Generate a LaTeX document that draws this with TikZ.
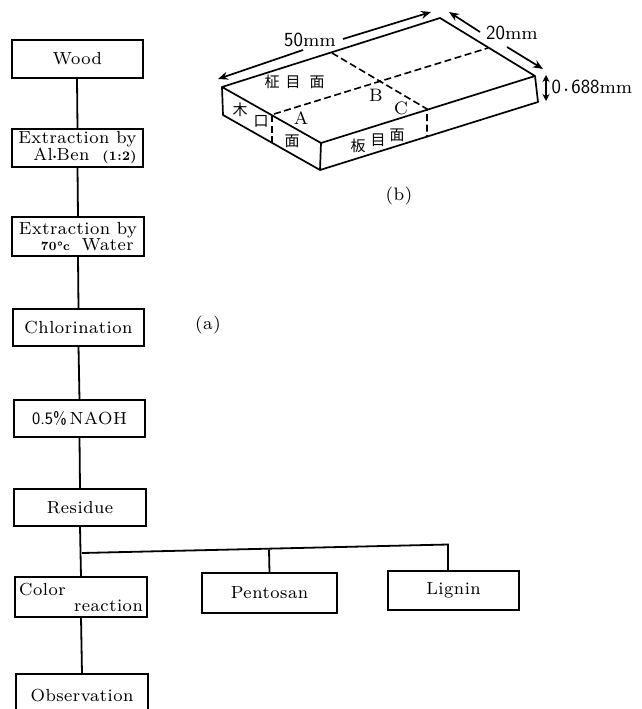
\documentclass[tikz,border=0pt]{standalone}
\usepackage{fontspec}
\setmainfont{lmroman8-regular}[Extension=.otf,BoldFont=lmroman8-bold,ItalicFont=lmroman8-italic,BoldItalicFont=lmroman8-bold]
\setsansfont{Latin Modern Sans}
\newfontfamily\spaced{lmroman8-regular}[Extension=.otf,LetterSpace=3,BoldFont=lmroman8-bold,ItalicFont=lmroman8-italic,BoldItalicFont=lmroman8-bold]
\newfontfamily\cjk{Noto Sans CJK JP}
\usetikzlibrary{arrows.meta}
\tikzset{
  flowbox/.style={draw=black,line width=1.8pt,inner sep=0pt,outer sep=0pt,align=left,
    font=\fontsize{17.5}{16}\selectfont\spaced},
  link/.style={draw=black,line width=1.8pt},
  slab/.style={draw=black,line width=1.7pt,line join=round},
  cut/.style={draw=black,line width=1.6pt,dash pattern=on 7pt off 3.5pt},
  dim/.style={draw=black,line width=1.7pt,-{Stealth[length=10pt,width=8pt]}},
  dimboth/.style={draw=black,line width=1.7pt,{Stealth[length=7pt,width=7pt]}-{Stealth[length=7pt,width=7pt]}},
  ideo/.style={font=\fontsize{15}{15}\selectfont\cjk,inner sep=0pt},
  lab/.style={font=\fontsize{18}{16}\selectfont\spaced,inner sep=0pt},
  dimlab/.style={font=\fontsize{18.5}{16}\selectfont,inner sep=0pt},
}
\newcommand{\bigsans}[1]{{\fontsize{20}{16}\selectfont\sffamily #1}}
\begin{document}
\begin{tikzpicture}[x=1pt,y=-1pt]
\useasboundingbox (0,0) rectangle (641,709);
\clip (0,0) rectangle (641,709);
% flow boxes
\node[flowbox,minimum width=131pt,minimum height=38pt] (wood) at (77.5,59) {Wood};
\node[flowbox,minimum width=131pt,minimum height=38pt] (ex1) at (77.5,148)
  {Extraction by\\\hspace*{15pt}Al{\raisebox{2pt}{\tiny$\bullet$}}Ben\hspace{13pt}{\fontsize{13}{12}\selectfont\bfseries (1:2)}};
\node[flowbox,minimum width=132pt,minimum height=39pt] (ex2) at (78,236.5)
  {Extraction by\\\hspace*{22pt}{\fontsize{12.5}{12}\selectfont\bfseries\itshape 70°c}\hspace{12pt}Water};
\node[flowbox,minimum width=131pt,minimum height=37pt] (chl) at (78.5,327.5) {Chlorination};
\node[flowbox,minimum width=131pt,minimum height=37pt] (naoh) at (79.5,418.5) {{\sffamily 0.5\%}\,NAOH};
\node[flowbox,minimum width=132pt,minimum height=37pt] (res) at (80,507.5) {Residue};
\node[flowbox,minimum width=132pt,minimum height=40pt] (col) at (81,597)
  {Color\\\hspace*{55pt}reaction};
\node[flowbox,minimum width=132pt,minimum height=44pt] (obs) at (82,696) {Observation};
\node[flowbox,minimum width=135pt,minimum height=40pt] (pen) at (269.5,593) {Pentosan};
\node[flowbox,minimum width=131pt,minimum height=39pt] (lig) at (453.5,590.5) {Lignin};
% connectors
\coordinate (wb) at (77,78);
\draw[link] (wb) -- (ex1.north);
\draw[link] (ex1.south) -- (ex2.north);
\draw[link] (ex2.south) -- (chl.north);
\draw[link] (chl.south) -- (naoh.north);
\draw[link] (naoh.south) -- (res.north);
\draw[link] (res.south) -- (col.north);
\draw[link] (col.south) -- (obs.north);
\coordinate (jl) at (82,553);
\coordinate (jr) at (448,544.5);
\coordinate (jm) at (269,549.5);
\draw[link] (jl) -- (jr) -- (jr |- lig.north);
\draw[link] (jm) -- (pen.north);
% captions
\node[lab] (capa) at (208,325) {(a)};
\node[lab] (capb) at (399,196) {(b)};
% slab corners
\coordinate (tl) at (222,87);
\coordinate (tb) at (440,18);
\coordinate (tr) at (535,76);
\coordinate (tf) at (321,143);
\coordinate (bl) at (223,115);
\coordinate (bf) at (320,170);
\coordinate (br) at (538,102);
\draw[slab] (tl) -- (tb) -- (tr) -- (tf) -- cycle;
\draw[slab] (tl) -- (bl) -- (bf) -- (br) -- (tr);
\draw[slab] (tf) -- (bf);
% cuts
\coordinate (c1) at (332,53);
\coordinate (c2) at (427,109);
\coordinate (c3) at (427,136);
\coordinate (c4) at (274,114);
\coordinate (c5) at (488,48);
\coordinate (c6) at (272,115);
\coordinate (c7) at (272,143);
\draw[cut] (c1) -- (c2) -- (c3);
\draw[cut] (c4) -- (c5);
\draw[cut] (c6) -- (c7);
% dimensions
\coordinate (d1) at (303,50);
\coordinate (d2) at (218,79);
\coordinate (d3) at (343,39);
\coordinate (d4) at (431,12);
\coordinate (d5) at (480,32);
\coordinate (d6) at (449,12);
\coordinate (d7) at (507,47);
\coordinate (d8) at (543,69);
\coordinate (d9) at (546,75);
\coordinate (d10) at (546,101);
\draw[dim] (d1) -- (d2);
\draw[dim] (d3) -- (d4);
\draw[dim] (d5) -- (d6);
\draw[dim] (d7) -- (d8);
\draw[dimboth] (d9) -- (d10);
\node[dimlab] (l50) at (310,40) {\bigsans{50}mm};
\node[dimlab] (l20) at (512,33) {\bigsans{20}mm};
\node[dimlab] (l06) at (592,87) {\bigsans{0\,{\raisebox{2pt}{\tiny$\bullet$}}\,688}mm};
% face labels
\node[lab] (la) at (301,118) {A};
\node[lab] (lb) at (376,95) {B};
\node[lab] (lc) at (401,108) {C};
\node[ideo] (m1) at (272,82) {柾};
\node[ideo] (m2) at (293,82) {目};
\node[ideo] (m3) at (317,82) {面};
\node[ideo] (k1) at (240,110) {木};
\node[ideo] (k2) at (261,121) {口};
\node[ideo] (k3) at (292,141) {面};
\node[ideo] (i1) at (358,146) {板};
\node[ideo] (i2) at (378,140) {目};
\node[ideo] (i3) at (397,135) {面};
\end{tikzpicture}
\end{document}
